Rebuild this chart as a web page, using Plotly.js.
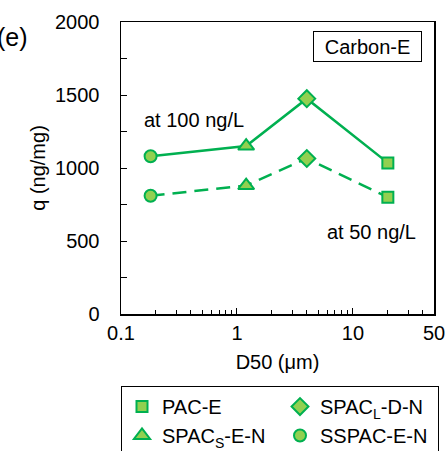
<!DOCTYPE html>
<html><head><meta charset="utf-8">
<script src="https://cdn.plot.ly/plotly-3.0.1.min.js"></script>
<style>html,body{margin:0;padding:0;background:#fff}</style>
</head><body><div id="chart" style="width:448px;height:451px"></div>
<script>
const materials = ['SSPAC-E-N', 'SPAC<sub>S</sub>-E-N', 'SPAC<sub>L</sub>-D-N', 'PAC-E'];
const d50 = [0.18, 1.2, 4.0, 20];
const q100 = [1080, 1150, 1475, 1035];
const q50 = [810, 880, 1065, 800];
const symbols = ['circle', 'triangle-up', 'diamond', 'square'];
const legendOrder = [3, 2, 1, 0];
const xTickVals = [0.1, 1, 10, 50];
const xTickText = ['0.1', '1', '10', '50'];
const xMinorVals = [0.2,0.3,0.4,0.5,0.6,0.7,0.8,0.9,2,3,4,5,6,7,8,9,20,30,40];
const yTickVals = [0, 500, 1000, 1500, 2000];
const yMinorVals = [250, 750, 1250, 1750];

const lineColor = '#00B050';
const fillColor = '#92D050';
const markerSizes = {'circle': 12, 'triangle-up': 14, 'diamond': 13, 'square': 11};
const font = 'Arial, "Liberation Sans", sans-serif';

const traces = [
  {x: d50, y: q100, mode: 'lines', type: 'scatter', showlegend: false,
   line: {color: lineColor, width: 2.5}},
  {x: d50, y: q50, mode: 'lines', type: 'scatter', showlegend: false,
   line: {color: lineColor, width: 2.5, dash: '14px,8px'}}
];
legendOrder.forEach(i => {
  traces.push({
    x: [d50[i], d50[i]], y: [q100[i], q50[i]], mode: 'markers', type: 'scatter',
    name: materials[i],
    marker: {symbol: symbols[i], size: markerSizes[symbols[i]], color: fillColor,
             line: {color: lineColor, width: 2}}
  });
});

const layout = {
  width: 448, height: 451,
  margin: {l: 121, r: 14, t: 22, b: 137},
  paper_bgcolor: '#fff', plot_bgcolor: '#fff',
  font: {family: font, size: 20, color: '#000'},
  showlegend: true,
  xaxis: {
    type: 'log', range: [-1, Math.log10(50)],
    tickmode: 'array', tickvals: xTickVals, ticktext: xTickText,
    ticks: 'inside', ticklen: 6, tickwidth: 1, tickcolor: '#000',
    minor: {tickvals: xMinorVals, ticks: 'inside', ticklen: 4, tickwidth: 1, tickcolor: '#000'},
    showline: true, linecolor: '#000', linewidth: 1.5, mirror: true,
    showgrid: false, zeroline: false,
    tickfont: {size: 20},
    title: {text: 'D50 (μm)', font: {size: 20}, standoff: 12}
  },
  yaxis: {
    range: [0, 2000],
    tickmode: 'array', tickvals: yTickVals, ticktext: yTickVals.map(String),
    ticks: 'inside', ticklen: 6, tickwidth: 1, tickcolor: '#000',
    minor: {tickvals: yMinorVals, ticks: 'inside', ticklen: 6, tickwidth: 1, tickcolor: '#000'},
    showline: true, linecolor: '#000', linewidth: 1.5, mirror: true,
    showgrid: false, zeroline: false,
    ticklabelstandoff: 16,
    tickfont: {size: 20},
    title: {text: 'q (ng/mg)', font: {size: 20}, standoff: 4}
  },
  legend: {
    orientation: 'h', xref: 'paper', x: 0, xanchor: 'left',
    yref: 'container', y: 0.1441, yanchor: 'top',
    bgcolor: '#fff', bordercolor: '#000', borderwidth: 1,
    font: {size: 20}, entrywidth: 113, entrywidthmode: 'pixels',
    traceorder: 'normal'
  },
  annotations: [
    {text: 'Carbon-E', xref: 'paper', yref: 'paper', x: 0.7875, y: 0.916,
     xanchor: 'center', yanchor: 'middle', showarrow: false,
     width: 101, height: 23, borderpad: 3, bordercolor: '#000', borderwidth: 1,
     bgcolor: '#fff', font: {size: 20}},
    {text: 'at 100 ng/L', xref: 'paper', yref: 'paper', x: 0.067, y: 0.664,
     xanchor: 'left', yanchor: 'middle', showarrow: false, font: {size: 20}},
    {text: 'at 50 ng/L', xref: 'paper', yref: 'paper', x: 0.949, y: 0.281,
     xanchor: 'right', yanchor: 'middle', showarrow: false, font: {size: 20}},
    {text: '(e)', xref: 'paper', yref: 'paper', x: -0.29, y: 0.948,
     xanchor: 'right', yanchor: 'middle', showarrow: false, font: {size: 25}}
  ]
};

Plotly.newPlot('chart', traces, layout, {displayModeBar: false, staticPlot: true});
</script></body></html>
